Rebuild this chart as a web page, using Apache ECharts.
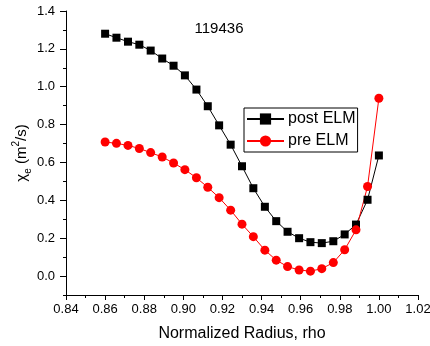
<!DOCTYPE html>
<html>
<head>
<meta charset="utf-8">
<script src="https://cdn.jsdelivr.net/npm/echarts@6/dist/echarts.min.js"></script>
<style>
html,body{margin:0;padding:0;background:#fff;}
#chart{width:430px;height:346px;}
</style>
</head>
<body>
<div id="chart"></div>
<script>
// Data
const rho = [0.86, 0.8658, 0.8717, 0.8775, 0.8833, 0.8892, 0.895, 0.9008, 0.9067, 0.9125, 0.9183, 0.9242, 0.93, 0.9358, 0.9417, 0.9475, 0.9533, 0.9592, 0.965, 0.9708, 0.9767, 0.9825, 0.9883, 0.9942, 1.0];
const postELM = [1.280, 1.259, 1.238, 1.222, 1.191, 1.149, 1.111, 1.060, 0.985, 0.897, 0.796, 0.694, 0.580, 0.464, 0.366, 0.290, 0.234, 0.200, 0.179, 0.174, 0.184, 0.220, 0.272, 0.403, 0.637];
const preELM = [0.708, 0.701, 0.690, 0.674, 0.652, 0.629, 0.597, 0.562, 0.519, 0.469, 0.414, 0.348, 0.274, 0.208, 0.137, 0.084, 0.050, 0.032, 0.026, 0.039, 0.071, 0.139, 0.244, 0.473, 0.939];
const yTickLabels = [0.0, 0.2, 0.4, 0.6, 0.8, 1.0, 1.2, 1.4];
const seriesNames = ['post ELM', 'pre ELM'];
const titleText = '119436';

const FONT = "'Liberation Sans', Arial, sans-serif";
const chart = echarts.init(document.getElementById('chart'), null, {renderer: 'canvas'});

const pairs = arr => rho.map((x, i) => [x, arr[i]]);

chart.setOption({
  animation: false,
  backgroundColor: '#fff',
  title: {
    text: titleText,
    left: 219, top: 21,
    textAlign: 'center',
    padding: 0,
    textStyle: {fontFamily: FONT, fontSize: 15, fontWeight: 'normal', color: '#000'}
  },
  legend: {
    orient: 'vertical',
    left: 244, top: 108,
    padding: [3, 2, 3, 2],
    itemWidth: 37, itemHeight: 14, itemGap: 6,
    borderColor: '#000', borderWidth: 1,
    backgroundColor: '#fff',
    textStyle: {fontFamily: FONT, fontSize: 16, color: '#000', padding: [0, 0, 0, -1]},
    data: seriesNames
  },
  grid: {left: 66, right: 12, top: 11, bottom: 51, containLabel: false, outerBoundsMode: 'none'},
  xAxis: {
    type: 'value',
    min: 0.84, max: 1.02, interval: 0.02,
    name: 'Normalized Radius, rho',
    nameLocation: 'middle', nameGap: 31, nameMoveOverlap: false,
    nameTextStyle: {fontFamily: FONT, fontSize: 16, color: '#000'},
    axisLine: {show: true, onZero: false, lineStyle: {color: '#000', width: 1}},
    axisTick: {show: true, inside: false, length: 5, lineStyle: {color: '#000'}},
    minorTick: {show: true, splitNumber: 2, length: 3, lineStyle: {color: '#000'}},
    splitLine: {show: false},
    axisLabel: {fontFamily: FONT, fontSize: 13, color: '#000', margin: 8,
      showMinLabel: true, showMaxLabel: true, hideOverlap: false,
      formatter: v => v.toFixed(2)}
  },
  yAxis: [{
    type: 'value',
    min: -0.1, max: 1.4,
    name: '{n|χ}{sub|e}{n| (m}{sup|2}{n|/s)}',
    nameLocation: 'middle', nameGap: 33, nameRotate: 90, nameMoveOverlap: false,
    nameTextStyle: {
      fontFamily: FONT, fontSize: 15, color: '#000',
      rich: {
        n: {fontFamily: FONT, fontSize: 15, color: '#000', lineHeight: 22, verticalAlign: 'middle'},
        sub: {fontFamily: FONT, fontSize: 10, color: '#000', lineHeight: 10, verticalAlign: 'bottom'},
        sup: {fontFamily: FONT, fontSize: 10, color: '#000', lineHeight: 10, verticalAlign: 'top'}
      }
    },
    axisLine: {show: true, onZero: false, lineStyle: {color: '#000', width: 1}},
    axisTick: {show: true, inside: false, length: 6, customValues: yTickLabels, lineStyle: {color: '#000'}},
    splitLine: {show: false},
    axisLabel: {fontFamily: FONT, fontSize: 13, color: '#000', margin: 11,
      customValues: yTickLabels, formatter: v => v.toFixed(1)}
  }, {
    type: 'value',
    min: -0.1, max: 1.4, interval: 0.1,
    position: 'left',
    axisLine: {show: false},
    axisTick: {show: true, inside: false, length: 3, lineStyle: {color: '#000'}},
    axisLabel: {show: false},
    splitLine: {show: false}
  }],
  series: [{
    name: seriesNames[0],
    type: 'line',
    yAxisIndex: 0,
    data: pairs(postELM),
    symbol: 'rect', symbolSize: 8,
    itemStyle: {color: '#000'},
    lineStyle: {color: '#000', width: 1}
  }, {
    name: seriesNames[1],
    type: 'line',
    yAxisIndex: 0,
    data: pairs(preELM),
    symbol: 'circle', symbolSize: 9,
    itemStyle: {color: '#ff0000'},
    lineStyle: {color: '#ff0000', width: 1}
  }]
});
</script>
</body>
</html>
